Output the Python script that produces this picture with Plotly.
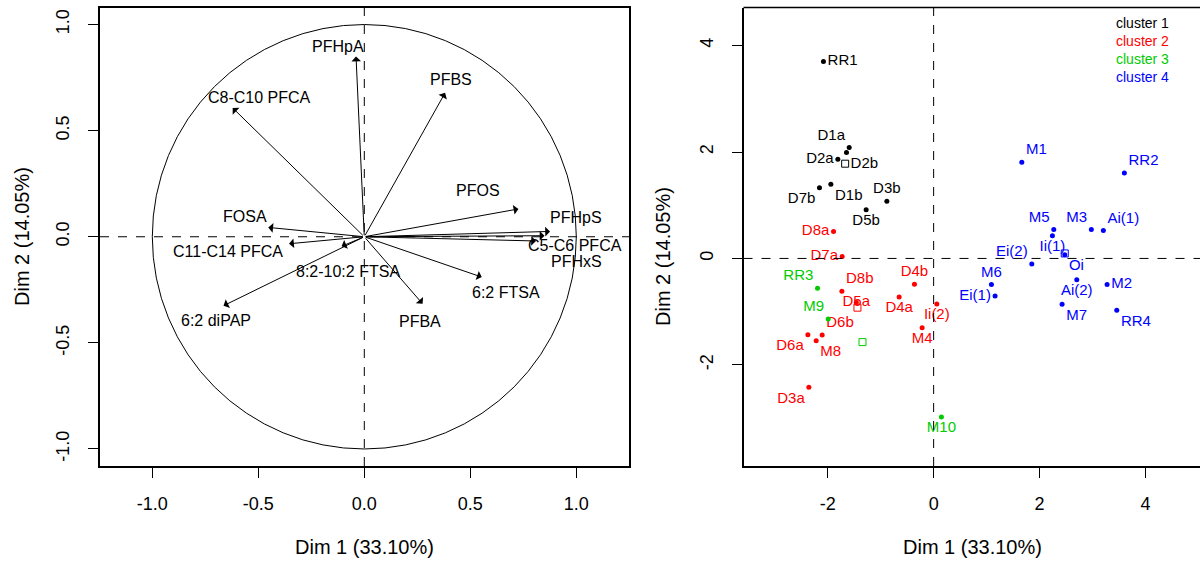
import plotly.graph_objects as go

# ---------------- data: variables factor map ----------------
var_names = ["PFHpA", "C8-C10 PFCA", "FOSA", "C11-C14 PFCA", "8:2-10:2 FTSA", "6:2 diPAP",
             "PFBS", "PFOS", "PFHpS", "C5-C6 PFCA", "PFHxS", "6:2 FTSA", "PFBA"]
var_dim1 = [-0.039, -0.621, -0.453, -0.355, -0.107, -0.664, 0.381, 0.727, 0.876, 0.81, 0.85, 0.554, 0.275]
var_dim2 = [0.849, 0.607, 0.044, -0.033, -0.045, -0.325, 0.678, 0.131, 0.025, -0.02, 0.005, -0.19, -0.316]

# ---------------- data: individuals factor map ----------------
c1_names = ["RR1", "D1a", "D2b", "D2a", "D7b", "D1b", "D3b", "D5b"]
c1_dim1 = [-2.08, -1.594, -1.645, -1.808, -2.155, -1.94, -0.883, -1.274]
c1_dim2 = [3.70, 2.085, 1.989, 1.862, 1.328, 1.396, 1.075, 0.913]

c2_names = ["D8a", "D7a", "D8b", "D5a", "D4b", "D4a", "Ii(2)", "M4", "D6b", "D6a", "M8", "D3a"]
c2_dim1 = [-1.89, -1.726, -1.732, -1.46, -0.362, -0.651, 0.06, -0.217, -2.104, -2.374, -2.217, -2.355]
c2_dim2 = [0.504, 0.038, -0.615, -0.83, -0.483, -0.723, -0.855, -1.302, -1.44, -1.434, -1.547, -2.42]

c3_names = ["RR3", "M9", "M10"]
c3_dim1 = [-2.192, -1.99, 0.147]
c3_dim2 = [-0.558, -1.138, -2.98]

c4_names = ["M1", "RR2", "M5", "M3", "Ai(1)", "Ii(1)", "Oi", "Ei(2)", "M6", "Ei(1)", "Ai(2)", "M2", "M7", "RR4"]
c4_dim1 = [1.664, 3.6, 2.268, 2.977, 3.204, 2.242, 2.475, 1.853, 1.091, 1.16, 2.702, 3.274, 2.425, 3.457]
c4_dim2 = [1.806, 1.604, 0.542, 0.542, 0.523, 0.428, 0.07, -0.106, -0.49, -0.704, -0.402, -0.49, -0.861, -0.974]

centroid_dim1 = [-1.67, -1.438, -1.343, 2.475]
centroid_dim2 = [1.78, -0.925, -1.572, 0.094]

cluster_labels = ["cluster 1", "cluster 2", "cluster 3", "cluster 4"]
x1_ticks = [-1.0, -0.5, 0.0, 0.5, 1.0]
x1_ticktext = ["-1.0", "-0.5", "0.0", "0.5", "1.0"]
x2_ticks = [-2, 0, 2, 4]
x2_ticktext = ["-2", "0", "2", "4"]
xlab = "Dim 1 (33.10%)"
ylab = "Dim 2 (14.05%)"

# ---------------- styles ----------------
W, H = 1200, 563
FONT = "Liberation Sans, Arial, sans-serif"
colors = ["#000000", "#FF0000", "#00CC00", "#0000FF"]
# label offsets (px, right / down) for variable labels
var_lab_dx = [-18, 27, -23, -61, 6, -8, 6, -40, 26, 39, 32, 24, -3]
var_lab_dy = [-10, -10, -11, 8, 25, 15, -13, -18, -14, 5, 26, 15, 18]
c1_pos = ["middle right", "top left", "bottom right", "middle left", "bottom left", "bottom right",
          "top center", "bottom center"]
c2_pos = ["middle left", "middle left", "top right", "middle center", "top center", "bottom center",
          "bottom center", "bottom center", "top right", "bottom left", "bottom right", "bottom left"]
c3_pos = ["top left", "top left", "bottom center"]
c4_pos = ["top right", "top right", "top left", "top left", "top right", "bottom center", "bottom right",
          "top left", "top center", "middle left", "bottom center", "middle right", "bottom right",
          "bottom right"]


def px(v):
    return v / W


def py(v):
    return 1 - v / H


fig = go.Figure()

# invisible trace to anchor left axes
fig.add_trace(go.Scatter(x=var_dim1, y=var_dim2, mode="markers", marker=dict(size=1, opacity=0),
                         xaxis="x", yaxis="y", hoverinfo="skip", showlegend=False))

annotations = []
for name, x, y, dx, dy in zip(var_names, var_dim1, var_dim2, var_lab_dx, var_lab_dy):
    annotations.append(dict(x=x, y=y, ax=0, ay=0, xref="x", yref="y", axref="x", ayref="y",
                            text="", showarrow=True, arrowhead=1, arrowsize=1.6, arrowwidth=1,
                            arrowcolor="black", standoff=0))
    annotations.append(dict(x=x, y=y, xref="x", yref="y", text=name, showarrow=False,
                            xshift=dx, yshift=-dy, font=dict(family=FONT, size=16, color="black"),
                            xanchor="center", yanchor="middle"))

# right panel clusters
groups = [(c1_names, c1_dim1, c1_dim2, c1_pos), (c2_names, c2_dim1, c2_dim2, c2_pos),
          (c3_names, c3_dim1, c3_dim2, c3_pos), (c4_names, c4_dim1, c4_dim2, c4_pos)]
for i, (names, xs, ys, pos) in enumerate(groups):
    fig.add_trace(go.Scatter(x=xs, y=ys, mode="markers+text", text=names, textposition=pos,
                             marker=dict(color=colors[i], size=5),
                             textfont=dict(family=FONT, size=15, color=colors[i]),
                             xaxis="x2", yaxis="y2", showlegend=False, cliponaxis=False))
fig.add_trace(go.Scatter(x=centroid_dim1, y=centroid_dim2, mode="markers",
                         marker=dict(symbol="square-open", size=7, color=colors, line=dict(width=1)),
                         xaxis="x2", yaxis="y2", showlegend=False))

# legend (text only)
for i, lab in enumerate(cluster_labels):
    annotations.append(dict(x=px(1142), y=py(23 + 18 * i), xref="paper", yref="paper", text=lab,
                            showarrow=False, font=dict(family=FONT, size=14, color=colors[i]),
                            xanchor="center", yanchor="middle"))

# axis titles
annotations += [
    dict(x=px(365), y=py(547), xref="paper", yref="paper", text=xlab, showarrow=False,
         font=dict(family=FONT, size=20, color="black"), xanchor="center", yanchor="middle"),
    dict(x=px(972), y=py(547), xref="paper", yref="paper", text=xlab, showarrow=False,
         font=dict(family=FONT, size=20, color="black"), xanchor="center", yanchor="middle"),
    dict(x=px(22), y=py(237), xref="paper", yref="paper", text=ylab, showarrow=False, textangle=-90,
         font=dict(family=FONT, size=20, color="black"), xanchor="center", yanchor="middle"),
    dict(x=px(663), y=py(257), xref="paper", yref="paper", text=ylab, showarrow=False, textangle=-90,
         font=dict(family=FONT, size=20, color="black"), xanchor="center", yanchor="middle"),
]

shapes = [
    dict(type="circle", xref="x", yref="y", x0=-1, x1=1, y0=-1, y1=1, line=dict(color="black", width=1)),
    dict(type="line", xref="x domain", yref="y", x0=0, x1=1, y0=0, y1=0,
         line=dict(color="black", width=1, dash="dash")),
    dict(type="line", xref="x", yref="y domain", x0=0, x1=0, y0=0, y1=1,
         line=dict(color="black", width=1, dash="dash")),
    dict(type="line", xref="x2 domain", yref="y2", x0=0, x1=1, y0=0, y1=0,
         line=dict(color="black", width=1, dash="dash")),
    dict(type="line", xref="x2", yref="y2 domain", x0=0, x1=0, y0=0, y1=1,
         line=dict(color="black", width=1, dash="dash")),
    dict(type="line", xref="x2 domain", yref="y2 domain", x0=0, x1=1, y0=1, y1=1,
         line=dict(color="black", width=1.5)),
]

axis_common = dict(showgrid=False, zeroline=False, showline=True, linecolor="black", linewidth=1.5,
                   ticks="outside", ticklen=10, tickcolor="black", tickwidth=1,
                   tickfont=dict(family=FONT, size=18, color="black"))

top, bottom = 7.5, 466
fig.update_layout(
    width=W, height=H, margin=dict(l=0, r=0, t=0, b=0),
    paper_bgcolor="white", plot_bgcolor="white",
    xaxis=dict(domain=[px(100), px(629)], range=[-1.2467, 1.2486], tickvals=x1_ticks,
               ticktext=x1_ticktext, mirror=True, anchor="y", ticklabelstandoff=11, **axis_common),
    yaxis=dict(domain=[py(bottom), py(top)], range=[-1.0802, 1.0802], tickvals=x1_ticks,
               ticktext=x1_ticktext, mirror=True, anchor="x", tickangle=-90, ticklabelstandoff=12,
               **axis_common),
    xaxis2=dict(domain=[px(743.5), 1.0], range=[-3.589, 5.028], tickvals=x2_ticks,
                ticktext=x2_ticktext, anchor="y2", ticklabelstandoff=11, **axis_common),
    yaxis2=dict(domain=[py(bottom), py(top)], range=[-3.90, 4.715], tickvals=x2_ticks,
                ticktext=x2_ticktext, anchor="x2", tickangle=-90, ticklabelstandoff=12, **axis_common),
    annotations=annotations, shapes=shapes,
)

fig.write_html("out.html", config={"displayModeBar": False},
               post_script="document.body.style.margin='0px';document.body.style.overflow='hidden';")
